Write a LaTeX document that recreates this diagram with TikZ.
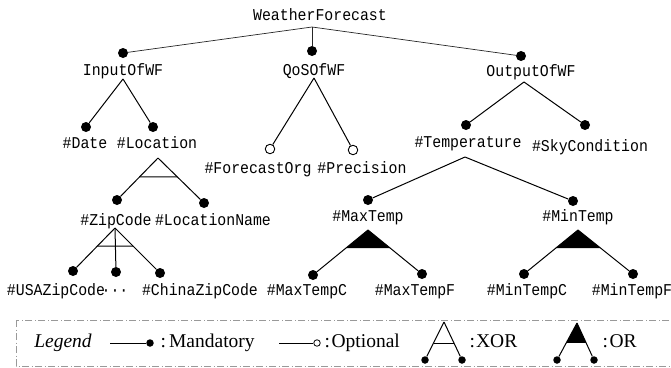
\documentclass[tikz,border=0pt]{standalone}
\usepackage{fontspec}
\setmainfont{Liberation Serif}
\newfontfamily\treefont[FakeStretch=0.9]{Liberation Mono}
\usetikzlibrary{calc}
\begin{document}
\begin{tikzpicture}[x=1pt,y=-1pt,
  lbl/.style={font=\treefont\fontsize{16.5}{18}\selectfont, inner sep=0pt, anchor=base},
  leg/.style={font=\fontsize{19.5}{22}\selectfont, inner sep=0pt, anchor=base west},
  edge/.style={line width=1pt},
  redge/.style={line width=0.7pt, black!85},
  mand/.style={circle, fill=black, inner sep=0pt, minimum size=10pt},
  opt/.style={circle, draw=black, fill=white, line width=0.9pt, inner sep=0pt, minimum size=9.5pt},
  lmand/.style={circle, fill=black, inner sep=0pt, minimum size=7.5pt},
  lopt/.style={circle, draw=black, fill=white, line width=0.8pt, inner sep=0pt, minimum size=6.5pt},
  legbox/.style={draw=black!40, line width=0.8pt, dash pattern=on 7pt off 2.5pt on 1pt off 2.5pt}
]
\useasboundingbox (0,0) rectangle (671,367);

% ---------- texts ----------
\node[lbl] (WF) at (320,20) {WeatherForecast};
\node[lbl] (Input) at (123,75) {InputOfWF};
\node[lbl] (QoS) at (314,75) {QoSOfWF};
\node[lbl] (Output) at (531,76) {OutputOfWF};
\node[lbl] (Date) at (85,148) {\#Date};
\node[lbl] (Location) at (157,148) {\#Location};
\node[lbl] (ForecastOrg) at (258,173) {\#ForecastOrg};
\node[lbl] (Precision) at (362,173) {\#Precision};
\node[lbl] (Temperature) at (468,147) {\#Temperature};
\node[lbl] (Sky) at (590,151) {\#SkyCondition};
\node[lbl] (Zip) at (116,225) {\#ZipCode};
\node[lbl] (LocName) at (213,225) {\#LocationName};
\node[lbl] (Max) at (368,221) {\#MaxTemp};
\node[lbl] (Min) at (578,221) {\#MinTemp};
\node[lbl] (USA) at (56,295) {\#USAZipCode};
\node[lbl] (Dots) at (115,295) {···};
\node[lbl] (China) at (200,295) {\#ChinaZipCode};
\node[lbl] (MaxC) at (307,295) {\#MaxTempC};
\node[lbl] (MaxF) at (415,295) {\#MaxTempF};
\node[lbl] (MinC) at (527,295) {\#MinTempC};
\node[lbl] (MinF) at (632,295) {\#MinTempF};

% ---------- apexes ----------
\coordinate (aRoot) at (312,27);
\coordinate (aInput) at (123,79);
\coordinate (aQoS) at (314,78);
\coordinate (aOutput) at (524,82);
\coordinate (aLocation) at (158,158);
\coordinate (aTemp) at (465,157);
\coordinate (aZip) at (115,228);
\coordinate (aMax) at (368,230);
\coordinate (aMin) at (578,230);

% ---------- dots ----------
\node[mand] (dInput) at (123,53) {};
\node[mand] (dQoS) at (312,51) {};
\node[mand] (dOutput) at (521,56) {};
\node[mand] (dDate) at (86,127) {};
\node[mand] (dLocation) at (153,127) {};
\node[opt] (oForecast) at (270,149) {};
\node[opt] (oPrecision) at (353,150) {};
\node[mand] (dTemp) at (466,125) {};
\node[mand] (dSky) at (585,125) {};
\node[mand] (dZip) at (117,200) {};
\node[mand] (dLocName) at (204,203) {};
\node[mand] (dMax) at (368,200) {};
\node[mand] (dMin) at (573,201) {};
\node[mand] (dUSA) at (73,271) {};
\node[mand] (dDots) at (116,272) {};
\node[mand] (dChina) at (160,273) {};
\node[mand] (dMaxC) at (313,275) {};
\node[mand] (dMaxF) at (422,274) {};
\node[mand] (dMinC) at (524,274) {};
\node[mand] (dMinF) at (633,274) {};

% ---------- edges ----------
\draw[redge] (aRoot) -- (dInput);
\draw[redge] (aRoot) -- (dQoS);
\draw[redge] (aRoot) -- (dOutput);
\draw[edge] (aInput) -- (dDate);
\draw[edge] (aInput) -- (dLocation);
\draw[edge] (aQoS) -- (oForecast);
\draw[edge] (aQoS) -- (oPrecision);
\draw[edge] (aOutput) -- (dTemp);
\draw[edge] (aOutput) -- (dSky);
\draw[edge] (aLocation) -- (dZip);
\draw[edge] (aLocation) -- (dLocName);
\draw[edge] ($(aLocation)!0.452!(dZip)$) -- ($(aLocation)!0.422!(dLocName)$);
\draw[edge] (aTemp) -- (dMax);
\draw[edge] (aTemp) -- (dMin);
\draw[edge] (aZip) -- (dUSA);
\draw[edge] (aZip) -- (dDots);
\draw[edge] (aZip) -- (dChina);
\draw[edge] ($(aZip)!0.419!(dUSA)$) -- ($(aZip)!0.4!(dChina)$);
\draw[edge] (aMax) -- (dMaxC);
\draw[edge] (aMax) -- (dMaxF);
\fill (aMax) -- ($(aMax)!0.4!(dMaxC)$) -- ($(aMax)!0.409!(dMaxF)$) -- cycle;
\draw[edge] (aMin) -- (dMinC);
\draw[edge] (aMin) -- (dMinF);
\fill (aMin) -- ($(aMin)!0.409!(dMinC)$) -- ($(aMin)!0.409!(dMinF)$) -- cycle;

% ---------- legend ----------
\draw[legbox] (16,320) rectangle (680,366);
\node[leg, anchor=base] (LegT) at (63,347) {\itshape Legend};
\coordinate (lm0) at (110,343);
\node[lmand] (lm1) at (150,343) {};
\draw[edge] (lm0) -- (lm1);
\node[leg] (LegM) at (160.5,347) {:\hspace{3pt}Mandatory};
\coordinate (lo0) at (279,343);
\node[lopt] (lo1) at (317,343) {};
\draw[edge] (lo0) -- (lo1);
\node[leg] (LegO) at (324.5,347) {:\hspace{1.5pt}Optional};
\coordinate (lxA) at (444,322);
\node[lmand] (lx1) at (425,360) {};
\node[lmand] (lx2) at (462,360) {};
\draw[edge] (lxA) -- (lx1);
\draw[edge] (lxA) -- (lx2);
\draw[edge] ($(lxA)!0.553!(lx1)$) -- ($(lxA)!0.553!(lx2)$);
\node[leg] (LegX) at (469.5,347) {:\hspace{1pt}XOR};
\coordinate (loA) at (577,323);
\node[lmand] (lr1) at (557,360) {};
\node[lmand] (lr2) at (594,360) {};
\draw[edge] (loA) -- (lr1);
\draw[edge] (loA) -- (lr2);
\fill (loA) -- ($(loA)!0.54!(lr1)$) -- ($(loA)!0.54!(lr2)$) -- cycle;
\node[leg] (LegR) at (602.5,347) {:\hspace{1.5pt}OR};
\end{tikzpicture}
\end{document}
